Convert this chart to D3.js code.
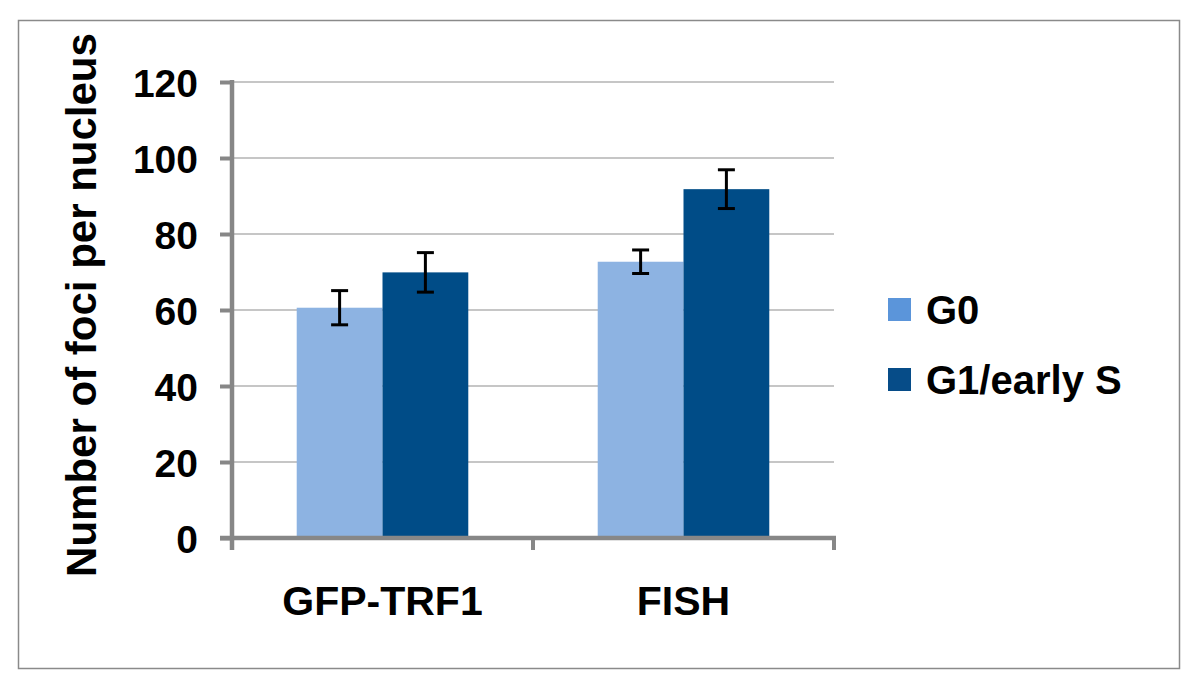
<!DOCTYPE html>
<html>
<head>
<meta charset="utf-8">
<script src="https://cdn.jsdelivr.net/npm/d3@7"></script>
<style>
  html, body { margin: 0; padding: 0; background: #fff; }
  svg text { font-family: "Liberation Sans", Arial, sans-serif; font-weight: bold; fill: #000; }
</style>
</head>
<body>
<svg id="chart" width="1200" height="689"></svg>
<script>
const categories = ["GFP-TRF1", "FISH"];
const seriesNames = ["G0", "G1/early S"];
const g0Values = [60.6, 72.7];
const g1Values = [69.9, 91.8];
const g0Errors = [4.5, 3.1];
const g1Errors = [5.2, 5.1];
const yTicks = [0, 20, 40, 60, 80, 100, 120];
const yTitle = "Number of foci per nucleus";

const barColors = ["#8DB3E2", "#004C87"];
const legendColors = ["#5B95DA", "#064C88"];

(function () {
const svg = d3.select("#chart");

// outer border
svg.append("rect")
  .attr("x", 18.5).attr("y", 20.5).attr("width", 1161).attr("height", 648)
  .attr("fill", "none").attr("stroke", "#8a8a8a").attr("stroke-width", 1.5);

const pLeft = 232, pRight = 834, pTop = 82, pBottom = 538;

const x0 = d3.scaleBand().domain(categories).range([pLeft, pRight])
  .paddingInner(0.43).paddingOuter(0.215);
const x1 = d3.scaleBand().domain(seriesNames).range([0, x0.bandwidth()]);
const y = d3.scaleLinear().domain([0, 120]).range([pBottom, pTop]);

// gridlines
svg.append("g").selectAll("line").data(yTicks.filter(d => d > 0)).join("line")
  .attr("x1", pLeft).attr("x2", pRight)
  .attr("y1", d => y(d)).attr("y2", d => y(d))
  .attr("stroke", "#b3b3b3").attr("stroke-width", 1.5);

// bars
const data = categories.map((c, i) => ({
  cat: c,
  vals: [
    { s: seriesNames[0], v: g0Values[i], e: g0Errors[i], k: 0 },
    { s: seriesNames[1], v: g1Values[i], e: g1Errors[i], k: 1 }
  ]
}));

const groups = svg.append("g").selectAll("g").data(data).join("g")
  .attr("transform", d => `translate(${x0(d.cat)},0)`);

groups.selectAll("rect").data(d => d.vals).join("rect")
  .attr("x", d => x1(d.s))
  .attr("width", x1.bandwidth())
  .attr("y", d => y(d.v))
  .attr("height", d => y(0) - y(d.v))
  .attr("fill", d => barColors[d.k]);

// error bars
const eb = groups.selectAll("g.eb").data(d => d.vals).join("g").attr("class", "eb");
const cx = d => x1(d.s) + x1.bandwidth() / 2;
eb.append("line")
  .attr("x1", cx).attr("x2", cx)
  .attr("y1", d => y(d.v + d.e)).attr("y2", d => y(d.v - d.e))
  .attr("stroke", "#000").attr("stroke-width", 3);
eb.append("line")
  .attr("x1", d => cx(d) - 8.5).attr("x2", d => cx(d) + 8.5)
  .attr("y1", d => y(d.v + d.e)).attr("y2", d => y(d.v + d.e))
  .attr("stroke", "#000").attr("stroke-width", 3);
eb.append("line")
  .attr("x1", d => cx(d) - 8.5).attr("x2", d => cx(d) + 8.5)
  .attr("y1", d => y(d.v - d.e)).attr("y2", d => y(d.v - d.e))
  .attr("stroke", "#000").attr("stroke-width", 3);

// y axis
const yAxis = d3.axisLeft(y).tickValues(yTicks).tickSize(12).tickPadding(22);
const gy = svg.append("g").attr("transform", `translate(${pLeft},0)`).call(yAxis);
gy.select(".domain").attr("stroke", "#878787").attr("stroke-width", 4.5)
  .attr("d", `M0,${pTop - 2}V${pBottom + 12}`);
gy.selectAll(".tick line").attr("stroke", "#878787").attr("stroke-width", 4);
gy.selectAll(".tick text").style("font-size", "39px").attr("dy", "0.36em");

// x axis
const gx = svg.append("g").attr("transform", `translate(0,${pBottom})`);
gx.append("line").attr("x1", pLeft - 12).attr("x2", pRight + 2)
  .attr("y1", 0).attr("y2", 0).attr("stroke", "#878787").attr("stroke-width", 4.5);
const boundaries = [pLeft, ...categories.slice(1).map(c => x0(c) - x0.step() * x0.paddingInner() / 2), pRight];
gx.selectAll("line.bt").data(boundaries).join("line").attr("class", "bt")
  .attr("x1", d => d).attr("x2", d => d).attr("y1", 0).attr("y2", 12)
  .attr("stroke", "#878787").attr("stroke-width", 4);
gx.selectAll("text").data(categories).join("text")
  .attr("x", d => x0(d) + x0.bandwidth() / 2)
  .attr("y", 77)
  .attr("text-anchor", "middle")
  .style("font-size", "41px")
  .text(d => d);

// y title
svg.append("text")
  .attr("transform", `translate(96,${(pTop + pBottom) / 2 - 5}) rotate(-90)`)
  .attr("text-anchor", "middle")
  .style("font-size", "42px")
  .text(yTitle);

// legend
const legend = svg.append("g").selectAll("g").data(seriesNames).join("g")
  .attr("transform", (d, i) => `translate(888,${298 + i * 70})`);
legend.append("rect").attr("width", 23).attr("height", 23)
  .attr("fill", (d, i) => legendColors[i]);
legend.append("text").attr("x", 38).attr("y", 11.5).attr("dy", "0.36em")
  .style("font-size", "40px").text(d => d);
})();
</script>
</body>
</html>
